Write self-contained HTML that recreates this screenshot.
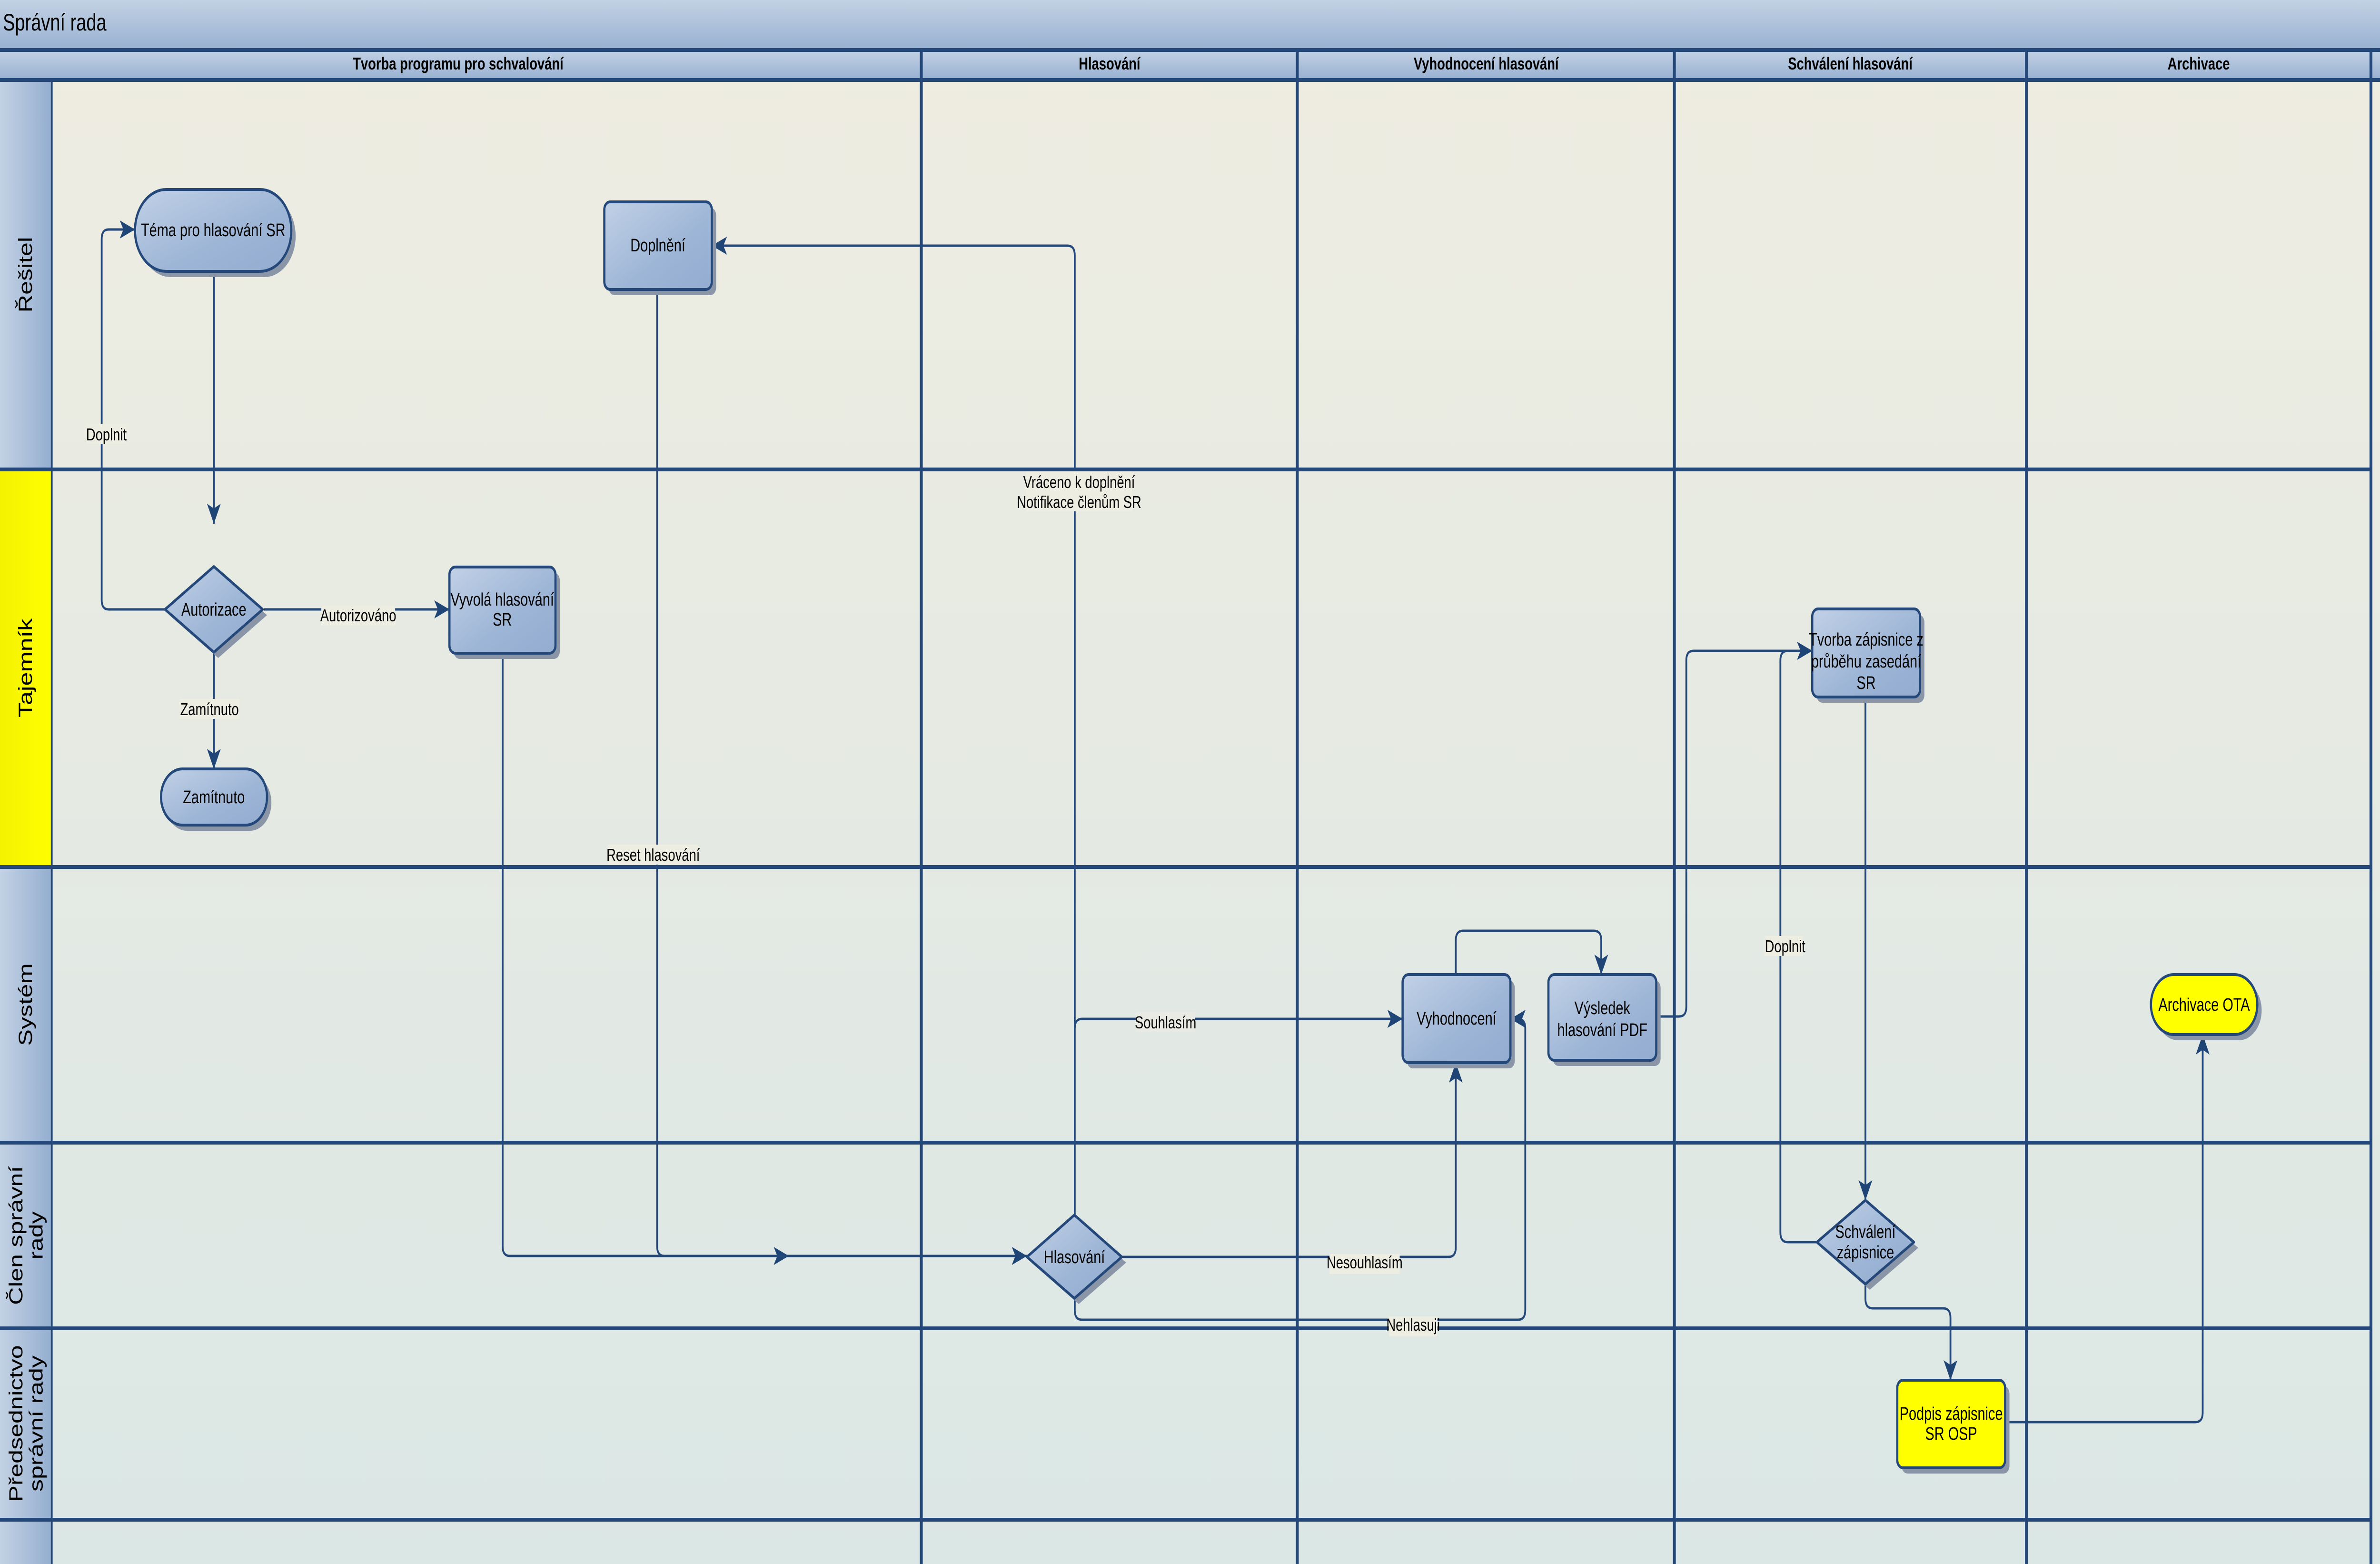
<!DOCTYPE html>
<html><head><meta charset="utf-8">
<style>
html,body{margin:0;padding:0;width:100%;height:100%;overflow:hidden;background:#eeede2;}
svg.main{position:fixed;left:0;top:0;width:100vw;height:100vh;display:block;}
svg text{font-family:"Liberation Sans Narrow","Liberation Sans",sans-serif;fill:#000;}
</style></head>
<body>
<svg class="main" xmlns="http://www.w3.org/2000/svg" viewBox="0 0 6577 3285" preserveAspectRatio="none">
<defs>
<linearGradient id="bg" x1="0" y1="0" x2="0" y2="1">
<stop offset="0" stop-color="#efede1"/><stop offset="1" stop-color="#dbe7e5"/></linearGradient>
<linearGradient id="hdr" x1="0" y1="0" x2="0" y2="1">
<stop offset="0" stop-color="#c3d2e4"/><stop offset="1" stop-color="#97b0d1"/></linearGradient>
<linearGradient id="side" x1="0" y1="0" x2="1" y2="0">
<stop offset="0" stop-color="#c3d2e4"/><stop offset="1" stop-color="#94aed0"/></linearGradient>
<linearGradient id="yel" x1="0" y1="0" x2="1" y2="0">
<stop offset="0" stop-color="#f4f200"/><stop offset="1" stop-color="#ffff00"/></linearGradient>
<linearGradient id="node" x1="0" y1="0" x2="1" y2="1">
<stop offset="0" stop-color="#c1d1e6"/><stop offset="0.6" stop-color="#9db5d6"/><stop offset="1" stop-color="#93acd0"/></linearGradient>
<marker id="ar" markerUnits="userSpaceOnUse" markerWidth="50" markerHeight="50" viewBox="0 0 50 50" refX="44" refY="25" orient="auto">
<path d="M2,6 L44,25 L2,44 L12,25 Z" fill="#1f4576"/></marker>
</defs>

<rect x="0" y="0" width="6577" height="3285" fill="url(#bg)"/>
<rect x="0" y="0" width="6577" height="105" fill="url(#hdr)"/>
<text x="8" y="64" font-size="50">Správní rada</text>
<rect x="0" y="105" width="6577" height="63" fill="url(#hdr)"/>
<g font-size="36" font-weight="bold" text-anchor="middle">
<text x="1266" y="146">Tvorba programu pro schvalování</text>
<text x="3066" y="146">Hlasování</text>
<text x="4107" y="146">Vyhodnocení hlasování</text>
<text x="5113" y="146">Schválení hlasování</text>
<text x="6076" y="146">Archivace</text>
</g>
<rect x="0" y="168" width="143" height="818" fill="url(#side)"/>
<rect x="0" y="986" width="143" height="835" fill="url(#yel)"/>
<rect x="0" y="1821" width="143" height="579" fill="url(#side)"/>
<rect x="0" y="2400" width="143" height="390" fill="url(#side)"/>
<rect x="0" y="2790" width="143" height="402" fill="url(#side)"/>
<rect x="0" y="3192" width="143" height="93" fill="url(#side)"/>
<g font-size="52" text-anchor="middle" style="font-family:'Liberation Sans',sans-serif">
<text transform="translate(88,577) rotate(-90)">Řešitel</text>
<text transform="translate(88,1403) rotate(-90)">Tajemník</text>
<text transform="translate(88,2110) rotate(-90)">Systém</text>
<text transform="translate(62,2595) rotate(-90)">Člen správní</text>
<text transform="translate(118,2595) rotate(-90)">rady</text>
<text transform="translate(62,2990) rotate(-90)">Předsednictvo</text>
<text transform="translate(118,2990) rotate(-90)">správní rady</text>
</g>
<g stroke="#24487a" stroke-width="8" fill="none">
<line x1="0" y1="105" x2="6577" y2="105"/>
<line x1="0" y1="168" x2="6577" y2="168"/>
<line x1="0" y1="986" x2="6552" y2="986"/>
<line x1="0" y1="1821" x2="6552" y2="1821"/>
<line x1="0" y1="2400" x2="6552" y2="2400"/>
<line x1="0" y1="2790" x2="6552" y2="2790"/>
<line x1="0" y1="3192" x2="6552" y2="3192"/>
<line x1="143" y1="168" x2="143" y2="3285" stroke-width="5"/>
<line x1="2546" y1="105" x2="2546" y2="3285"/>
<line x1="3585" y1="105" x2="3585" y2="3285"/>
<line x1="4627" y1="105" x2="4627" y2="3285"/>
<line x1="5600" y1="105" x2="5600" y2="3285"/>
<line x1="6552" y1="105" x2="6552" y2="3285"/>
</g>

<g stroke="#24487a" stroke-width="5" fill="none">
<path d="M591,570 V1100" marker-end="url(#ar)"/>
<path d="M457,1280 H300 Q281,1280 281,1260 V502 Q281,482 300,482 H373" marker-end="url(#ar)"/>
<path d="M730,1280 H1242" marker-end="url(#ar)"/>
<path d="M591,1370 V1615" marker-end="url(#ar)"/>
<path d="M1389,1372 V2618 Q1389,2638 1409,2638 H2180" marker-end="url(#ar)"/>
<path d="M1816,608 V2618 Q1816,2638 1836,2638 H2838" marker-end="url(#ar)"/>
<path d="M2970,2552 V536 Q2970,516 2950,516 H1967" marker-end="url(#ar)"/>
<path d="M2970,2160 Q2970,2140 2990,2140 H3876" marker-end="url(#ar)"/>
<path d="M3100,2640 H4003 Q4023,2640 4023,2620 V2232" marker-end="url(#ar)"/>
<path d="M2970,2727 V2752 Q2970,2772 2990,2772 H4195 Q4215,2772 4215,2752 V2160 Q4215,2140 4195,2140 H4174" marker-end="url(#ar)"/>
<path d="M4023,2047 V1975 Q4023,1955 4043,1955 H4405 Q4425,1955 4425,1975 V2047" marker-end="url(#ar)"/>
<path d="M4577,2135 H4640 Q4660,2135 4660,2115 V1387 Q4660,1367 4680,1367 H5008" marker-end="url(#ar)"/>
<path d="M5155,1464 V2521" marker-end="url(#ar)"/>
<path d="M5021,2609 H4940 Q4920,2609 4920,2589 V1387 Q4920,1367 4940,1367 H5008" marker-end="url(#ar)"/>
<path d="M5155,2697 V2728 Q5155,2748 5175,2748 H5370 Q5390,2748 5390,2768 V2899" marker-end="url(#ar)"/>
<path d="M5541,2987 H6067 Q6087,2987 6087,2967 V2173" marker-end="url(#ar)"/>
</g>

<g font-size="36" text-anchor="middle">
<rect x="240" y="890" width="108" height="42" fill="#eeede2"/><text x="294" y="925">Doplnit</text>
<rect x="888" y="1272" width="204" height="42" fill="#eeede2"/><text x="990" y="1305">Autorizováno</text>
<rect x="496" y="1468" width="166" height="42" fill="#eeede2"/><text x="579" y="1502">Zamítnuto</text>
<rect x="1680" y="1774" width="250" height="42" fill="#eeede2"/><text x="1805" y="1808">Reset hlasování</text>
<rect x="2836" y="990" width="292" height="84" fill="#eeede2"/>
<text x="2982" y="1025">Vráceno k doplnění</text><text x="2982" y="1067">Notifikace členům SR</text>
<rect x="3140" y="2126" width="162" height="42" fill="#e8eae3"/><text x="3221" y="2160">Souhlasím</text>
<rect x="3674" y="2634" width="194" height="42" fill="#eeede2"/><text x="3771" y="2664">Nesouhlasím</text>
<rect x="3838" y="2765" width="134" height="42" fill="#eeede2"/><text x="3905" y="2795">Nehlasuji</text>
<rect x="4876" y="1966" width="106" height="42" fill="#eeede2"/><text x="4933" y="2000">Doplnit</text>
</g>

<g fill="#8a96a8">
<rect x="385" y="410" width="432" height="172" rx="86"/>
<rect x="1682" y="436" width="297" height="184" rx="16"/>
<path d="M603,1202 L738,1292 L603,1382 L468,1292 Z"/>
<rect x="1254" y="1203" width="293" height="181" rx="16"/>
<rect x="457" y="1627" width="293" height="118" rx="59"/>
<path d="M2981,2564 L3112,2652 L2981,2739 L2850,2652 Z"/>
<rect x="3888" y="2059" width="298" height="185" rx="16"/>
<rect x="4291" y="2059" width="298" height="180" rx="16"/>
<rect x="5020" y="1291" width="298" height="185" rx="16"/>
<path d="M5167,2533 L5301,2621 L5167,2709 L5033,2621 Z"/>
<rect x="5255" y="2911" width="298" height="184" rx="16"/>
<rect x="5956" y="2059" width="294" height="126" rx="63"/>
</g>
<g stroke="#24487a" stroke-width="6" stroke-linejoin="round">
<rect x="373" y="398" width="432" height="172" rx="86" fill="url(#node)"/>
<rect x="1670" y="424" width="297" height="184" rx="16" fill="url(#node)"/>
<path d="M591,1190 L726,1280 L591,1370 L456,1280 Z" fill="url(#node)"/>
<rect x="1242" y="1191" width="293" height="181" rx="16" fill="url(#node)"/>
<rect x="445" y="1615" width="293" height="118" rx="59" fill="url(#node)"/>
<path d="M2969,2552 L3100,2640 L2969,2727 L2838,2640 Z" fill="url(#node)"/>
<rect x="3876" y="2047" width="298" height="185" rx="16" fill="url(#node)"/>
<rect x="4279" y="2047" width="298" height="180" rx="16" fill="url(#node)"/>
<rect x="5008" y="1279" width="298" height="185" rx="16" fill="url(#node)"/>
<path d="M5155,2521 L5289,2609 L5155,2697 L5021,2609 Z" fill="url(#node)"/>
<rect x="5243" y="2899" width="298" height="184" rx="16" fill="#ffff00"/>
<rect x="5944" y="2047" width="294" height="126" rx="63" fill="#ffff00"/>
</g>
<g font-size="38" text-anchor="middle">
<text x="589" y="496">Téma pro hlasování SR</text>
<text x="1818" y="528">Doplnění</text>
<text x="591" y="1293">Autorizace</text>
<text x="1388" y="1272">Vyvolá hlasování</text><text x="1388" y="1314">SR</text>
<text x="591" y="1687">Zamítnuto</text>
<text x="2969" y="2653">Hlasování</text>
<text x="4025" y="2152">Vyhodnocení</text>
<text x="4428" y="2130">Výsledek</text><text x="4428" y="2176">hlasování PDF</text>
<text x="5157" y="1356">Tvorba zápisnice z</text><text x="5157" y="1402">průběhu zasedání</text><text x="5157" y="1447">SR</text>
<text x="5155" y="2600">Schválení</text><text x="5155" y="2643">zápisnice</text>
<text x="5392" y="2982">Podpis zápisnice</text><text x="5392" y="3024">SR OSP</text>
<text x="6091" y="2123">Archivace OTA</text>
</g>
</svg>
</body></html>
